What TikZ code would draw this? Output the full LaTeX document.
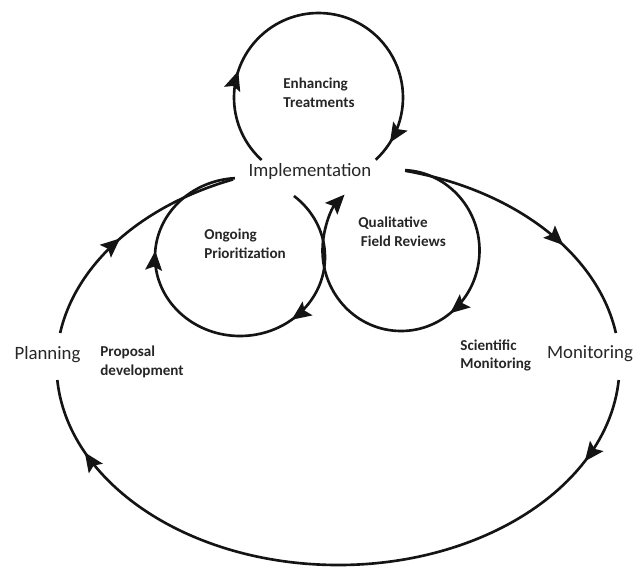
\documentclass[tikz,border=0pt]{standalone}
\usepackage{fontspec}
\setmainfont{Carlito}
\usetikzlibrary{arrows.meta, calc, decorations.markings}
\definecolor{inkblack}{HTML}{141414}
\definecolor{labelgray}{HTML}{262626}

\begin{document}
\begin{tikzpicture}[x=0.02cm, y=0.02cm,
  loop/.style={draw=inkblack, line width=1.5pt},
  midtip/.style={postaction={decorate, decoration={markings, mark=at position #1 with {\arrow{Stealth[length=11pt, width=9.5pt, inset=2pt]}}}}},
  stage/.style={font=\fontsize{10.7}{13}\selectfont, text=labelgray, inner sep=0pt},
  task/.style={font=\fontsize{8.6}{10.7}\selectfont\bfseries, text=labelgray, align=left, anchor=west, inner sep=0pt}
]
  \useasboundingbox (0,0) rectangle (644,566);

  % Loop centres
  \coordinate (outer) at (338,201);
  \coordinate (enh) at (318.5,468.5);
  \coordinate (ong) at (240,309);
  \coordinate (qual) at (401,315.5);

  % Stages
  \node[stage] (impl) at (310,395) {Implementation};
  \node[stage] (plan) at (47.5,211) {Planning};
  \node[stage] (mon) at (590,212) {Monitoring};

  % Inner activities
  \node[task] (enhance) at (283,473.5) {Enhancing\\Treatments};
  \node[task] (ongoing) at (204,322.5) {Ongoing\\Prioritization};
  \node[task] (quali) at (358,334.5) {Qualitative\\\,Field Reviews};
  \node[task] (proposal) at (100,204.5) {Proposal\\development};
  \node[task] (science) at (460,210.5) {Scientific\\Monitoring};

  % Small loops
  \draw[loop, midtip=0.24, midtip=0.945] ($(enh)+(227.7:84.5)$) arc[start angle=227.7, end angle=-47.4, radius=84.5];
  \draw[loop, midtip=0.32, midtip=0.74] ($(ong)+(50.6:85 and 79)$) arc[start angle=50.6, end angle=-266.6, x radius=85, y radius=79];
  \draw[loop, -{Stealth[length=11pt, width=9.5pt, inset=2pt]}, midtip=0.445] ($(qual)+(87:78.5 and 80.5)$) arc[start angle=87, end angle=-224, x radius=78.5, y radius=80.5];

  % Outer cycle
  \draw[loop, midtip=0.63] ($(outer)+(76.2:281.5 and 200)$) arc[start angle=76.2, end angle=9.2, x radius=281.5, y radius=200];
  \draw[loop, midtip=0.122, midtip=0.893] ($(outer)+(-4.3:281.5 and 200)$) arc[start angle=-4.3, end angle=-175.7, x radius=281.5, y radius=200];
  \draw[loop, midtip=0.47] ($(outer)+(170.8:281.5 and 200)$) arc[start angle=170.8, end angle=111.9, x radius=281.5, y radius=200];
\end{tikzpicture}
\end{document}
